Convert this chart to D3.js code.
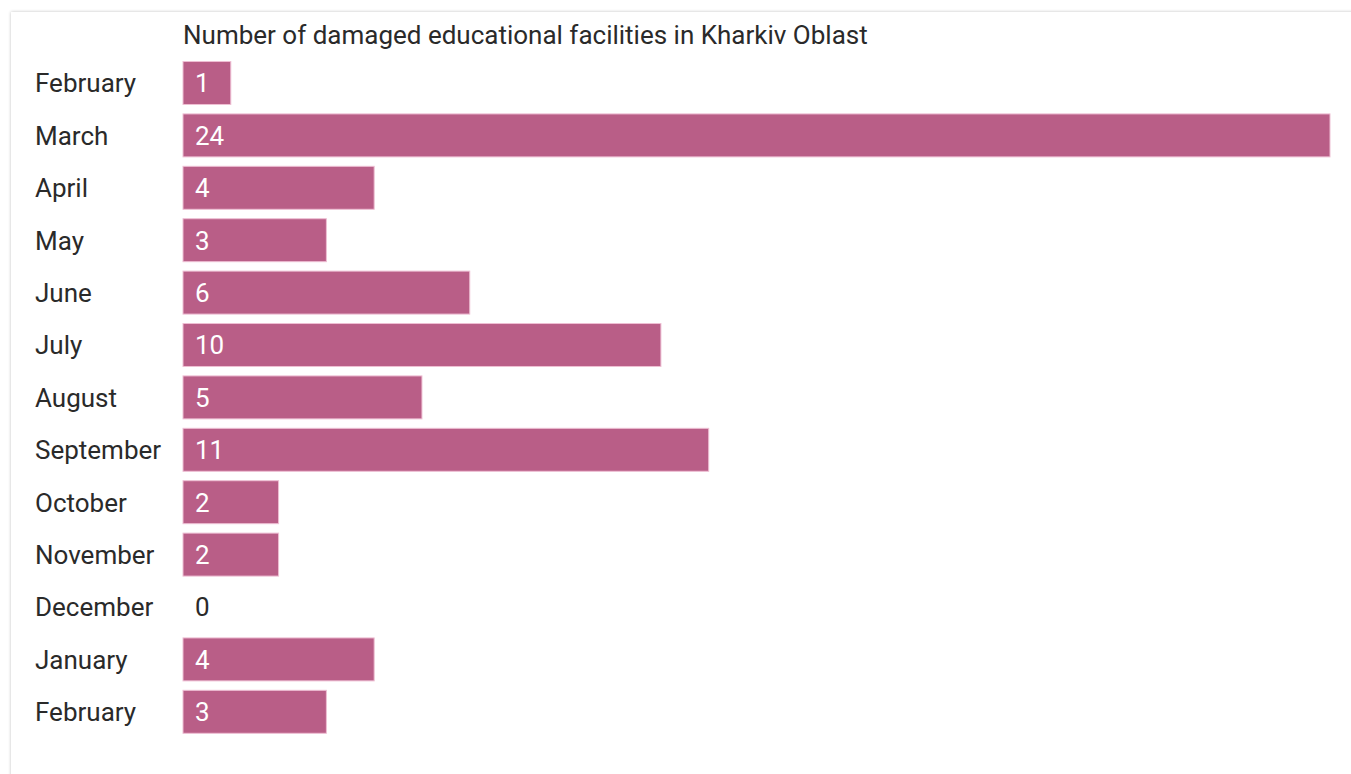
<!DOCTYPE html>
<html>
<head>
<meta charset="utf-8">
<script src="https://cdn.jsdelivr.net/npm/d3@7"></script>
<style>
  body{margin:0;background:#fff;font-family:Roboto,"Noto Sans",sans-serif;}
  #card{position:absolute;left:11px;top:12px;width:1400px;height:800px;
        box-shadow:0 0 3px rgba(0,0,0,0.25);background:#fff;}
  svg{position:absolute;left:0;top:0;}
</style>
</head>
<body>
<div id="card"></div>
<svg width="1351" height="774"></svg>
<script>
const months=['February','March','April','May','June','July','August','September','October','November','December','January','February'];
const counts=[1,24,4,3,6,10,5,11,2,2,0,4,3];
const titleText='Number of damaged educational facilities in Kharkiv Oblast';

const svg=d3.select('svg');
const barColor='#b95e87';
const fs='26px';

const x=d3.scaleLinear()
  .domain([0,24])
  .range([183,1330]);

const y=d3.scaleBand()
  .domain(d3.range(months.length))
  .range([56.8,56.8+13*52.4])
  .paddingInner(0.18)
  .paddingOuter(0.09);

// title
svg.append('text')
  .attr('x',183)
  .attr('y',44)
  .attr('fill','#2a2a2a')
  .style('font-size',fs)
  .text(titleText);

// month labels
svg.append('g').selectAll('text')
  .data(months)
  .join('text')
  .attr('x',35)
  .attr('y',(d,i)=>y(i)+y.bandwidth()/2)
  .attr('dy','0.36em')
  .attr('fill','#2a2a2a')
  .style('font-size',fs)
  .text(d=>d);

// bars
svg.append('g').selectAll('rect')
  .data(counts)
  .join('rect')
  .attr('x',x(0))
  .attr('y',(d,i)=>y(i))
  .attr('width',d=>x(d)-x(0))
  .attr('height',y.bandwidth())
  .attr('fill',barColor)
  .attr('stroke',d=>d>0?'#eebfd3':'none')
  .attr('stroke-width',1);

// values
svg.append('g').selectAll('text')
  .data(counts)
  .join('text')
  .attr('x',x(0)+12)
  .attr('y',(d,i)=>y(i)+y.bandwidth()/2)
  .attr('dy','0.36em')
  .attr('fill',d=>d>0?'#fff':'#2a2a2a')
  .style('font-size',fs)
  .text(d=>d);
</script>
</body>
</html>
